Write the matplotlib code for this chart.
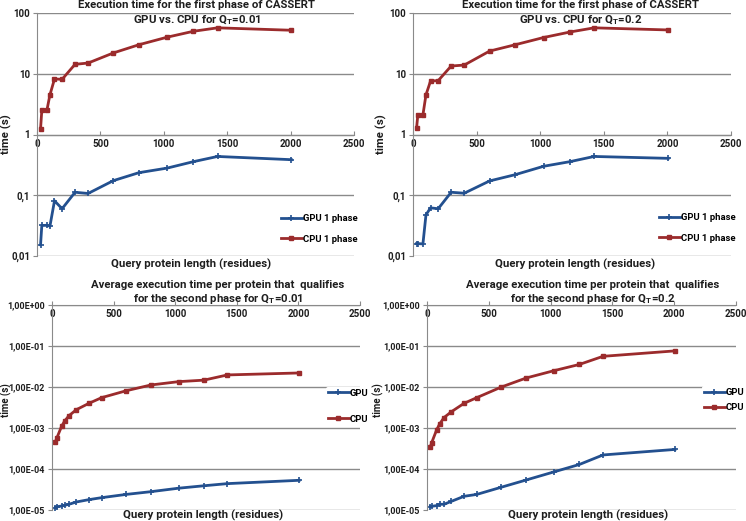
import matplotlib
matplotlib.use("Agg")
import matplotlib.pyplot as plt
from matplotlib.ticker import FixedLocator, FixedFormatter

plt.rcParams['font.family'] = ['Liberation Sans Narrow', 'Roboto', 'DejaVu Sans']
plt.rcParams['mathtext.fontset'] = 'custom'
plt.rcParams['mathtext.bf'] = 'Roboto:bold'
plt.rcParams['mathtext.rm'] = 'Roboto'

# query protein lengths (residues)
lengths = [28, 38, 78, 102, 138, 198, 300, 403, 602, 803, 1027, 1233, 1424, 2006]

# first phase, Q_T = 0.01
cpu_p1_001 = [1.24, 2.5, 2.5, 4.5, 8.2, 8.1, 14.3, 15.0, 22.0, 30.0, 40.0, 50.0, 57.0, 52.0]
gpu_p1_001 = [0.0153, 0.0318, 0.032, 0.031, 0.081, 0.060, 0.112, 0.107, 0.174, 0.235, 0.28, 0.357, 0.435, 0.385]
# first phase, Q_T = 0.2
cpu_p1_02 = [1.27, 2.1, 2.1, 4.5, 7.6, 7.7, 13.4, 13.9, 23.6, 30.0, 39.5, 48.6, 57.0, 52.6]
gpu_p1_02 = [0.016, 0.016, 0.0158, 0.0476, 0.062, 0.060, 0.112, 0.108, 0.172, 0.218, 0.30, 0.357, 0.435, 0.405]
# second phase, Q_T = 0.01
cpu_p2_001 = [4.5e-4, 5.6e-4, 1.1e-3, 1.47e-3, 2.0e-3, 2.8e-3, 4.0e-3, 5.5e-3, 8.1e-3, 1.12e-2, 1.35e-2, 1.47e-2, 1.97e-2, 2.2e-2]
gpu_p2_001 = [1.14e-5, 1.2e-5, 1.25e-5, 1.3e-5, 1.38e-5, 1.57e-5, 1.79e-5, 2.0e-5, 2.4e-5, 2.8e-5, 3.4e-5, 3.9e-5, 4.4e-5, 5.3e-5]
# second phase, Q_T = 0.2
cpu_p2_02 = [3.5e-4, 4.4e-4, 9.0e-4, 1.25e-3, 1.8e-3, 2.5e-3, 4.0e-3, 5.5e-3, 1.0e-2, 1.66e-2, 2.5e-2, 3.55e-2, 5.6e-2, 7.6e-2]
gpu_p2_02 = [1.2e-5, 1.23e-5, 1.28e-5, 1.38e-5, 1.38e-5, 1.63e-5, 2.16e-5, 2.4e-5, 3.6e-5, 5.4e-5, 8.5e-5, 1.29e-4, 2.2e-4, 3.0e-4]

x_ticks = [0, 500, 1000, 1500, 2000, 2500]
top_yticks = [0.01, 0.1, 1, 10, 100]
top_ylabels = ['0,01', '0,1', '1', '10', '100']
bot_yticks = [1e-5, 1e-4, 1e-3, 1e-2, 1e-1, 1]
bot_ylabels = ['1,00E-05', '1,00E-04', '1,00E-03', '1,00E-02', '1,00E-01', '1,00E+00']

RED = '#9B2B2C'
BLUE = '#23508F'
GRID = '#8A8A8A'
TXT = '#1E1E1E'
FS_TICK = 7.0
FS_TXT = 8.2

fig = plt.figure(figsize=(7.46, 5.21), dpi=100)
W, H = 746.0, 521.0


def px_axes(l, t, r, b):
    return fig.add_axes([l / W, 1 - b / H, (r - l) / W, (b - t) / H])


def style(ax, yticks, ylabels, ylim, ysize):
    ax.set_yscale('log')
    ax.set_xlim(0, 2500)
    ax.set_ylim(*ylim)
    ax.yaxis.set_major_locator(FixedLocator(yticks))
    ax.yaxis.set_major_formatter(FixedFormatter(ylabels))
    ax.yaxis.set_minor_locator(FixedLocator([]))
    ax.set_xticks(x_ticks)
    ax.set_xticklabels([str(v) for v in x_ticks])
    ax.spines['top'].set_visible(False)
    ax.spines['right'].set_visible(False)
    ax.spines['bottom'].set_position(('data', 1))
    ax.spines['bottom'].set_color(GRID)
    ax.spines['left'].set_color(GRID)
    ax.grid(axis='y', color=GRID, lw=1)
    ax.set_axisbelow(True)
    ax.tick_params(axis='x', direction='in', length=3, color=GRID, labelsize=FS_TICK,
                   labelcolor=TXT, pad=3)
    ax.tick_params(axis='y', direction='out', length=3, color=GRID, labelsize=ysize,
                   labelcolor=TXT, pad=2)
    for lab in ax.get_xticklabels() + ax.get_yticklabels():
        lab.set_fontweight('bold')


def draw(ax, cpu, gpu, names):
    g, = ax.plot(lengths, gpu, color=BLUE, lw=2, marker='+', ms=4, mew=1.2, label=names[0])
    c, = ax.plot(lengths, cpu, color=RED, lw=2, marker='s', ms=3.2, label=names[1])
    return g, c


def legend(handles, x, y, spacing, framed):
    lg = fig.legend(handles, [h.get_label() for h in handles], loc='center left',
                    bbox_to_anchor=(x / W, 1 - y / H), frameon=framed, handlelength=2.2,
                    handletextpad=0.1, labelspacing=spacing, borderpad=0.2 if framed else 0,
                    borderaxespad=0, prop={'weight': 'bold', 'size': 6.8})
    if framed:
        lg.get_frame().set_edgecolor('none')
        lg.get_frame().set_facecolor('white')
        lg.get_frame().set_alpha(1)
    return lg


# top-left
ax1 = px_axes(37, 13, 354, 256)
style(ax1, top_yticks, top_ylabels, (0.01, 100), FS_TICK)
h1 = draw(ax1, cpu_p1_001, gpu_p1_001, ['GPU 1 phase', 'CPU 1 phase'])
legend(h1, 281, 229, 1.2, False)

# top-right
ax2 = px_axes(413, 13, 731, 256)
style(ax2, top_yticks, top_ylabels, (0.01, 100), FS_TICK)
h2 = draw(ax2, cpu_p1_02, gpu_p1_02, ['GPU 1 phase', 'CPU 1 phase'])
legend(h2, 659, 228, 1.2, False)

# bottom-left
ax3 = px_axes(52, 305, 360, 510)
style(ax3, bot_yticks, bot_ylabels, (1e-5, 1), 6.5)
h3 = draw(ax3, cpu_p2_001, gpu_p2_001, ['GPU', 'CPU'])
legend(h3, 326, 406, 1.8, True)

# bottom-right
ax4 = px_axes(427, 305, 736, 510)
style(ax4, bot_yticks, bot_ylabels, (1e-5, 1), 6.5)
h4 = draw(ax4, cpu_p2_02, gpu_p2_02, ['GPU', 'CPU'])
legend(h4, 702, 400, 0.6, True)

# titles
tkw = dict(ha='center', va='center', fontsize=FS_TXT, fontweight='bold', color=TXT)
fig.text(197 / W, 1 - 5 / H, 'Execution time for the first phase of CASSERT', **tkw)
fig.text(197 / W, 1 - 20 / H, r'GPU vs. CPU for Q$_\mathbf{T}$=0.01', **tkw)
fig.text(581 / W, 1 - 5 / H, 'Execution time for the first phase of CASSERT', **tkw)
fig.text(581 / W, 1 - 20 / H, r'GPU vs. CPU for Q$_\mathbf{T}$=0.2', **tkw)
fig.text(218 / W, 1 - 285 / H, 'Average execution time per protein that  qualifies', **tkw)
fig.text(218 / W, 1 - 299 / H, r'for the second phase for Q$_\mathbf{T}$=0.01', **tkw)
fig.text(593 / W, 1 - 285 / H, 'Average execution time per protein that  qualifies', **tkw)
fig.text(593 / W, 1 - 299 / H, r'for the second phase for Q$_\mathbf{T}$=0.2', **tkw)

# axis labels
xkw = dict(ha='center', va='center', fontsize=FS_TXT, fontweight='bold', color=TXT)
fig.text(191 / W, 1 - 264 / H, 'Query protein length (residues)', **xkw)
fig.text(575 / W, 1 - 264 / H, 'Query protein length (residues)', **xkw)
fig.text(203 / W, 1 - 515 / H, 'Query protein length (residues)', **xkw)
fig.text(588 / W, 1 - 515 / H, 'Query protein length (residues)', **xkw)
ykw = dict(ha='center', va='center', rotation=90, fontsize=FS_TXT, fontweight='bold', color=TXT)
fig.text(6 / W, 1 - 134 / H, 'time (s)', **ykw)
fig.text(381 / W, 1 - 134 / H, 'time (s)', **ykw)
ykw['fontsize'] = 7.0
fig.text(6 / W, 1 - 400 / H, 'time (s)', **ykw)
fig.text(378 / W, 1 - 400 / H, 'time (s)', **ykw)

fig.savefig('out.png', dpi=100)
